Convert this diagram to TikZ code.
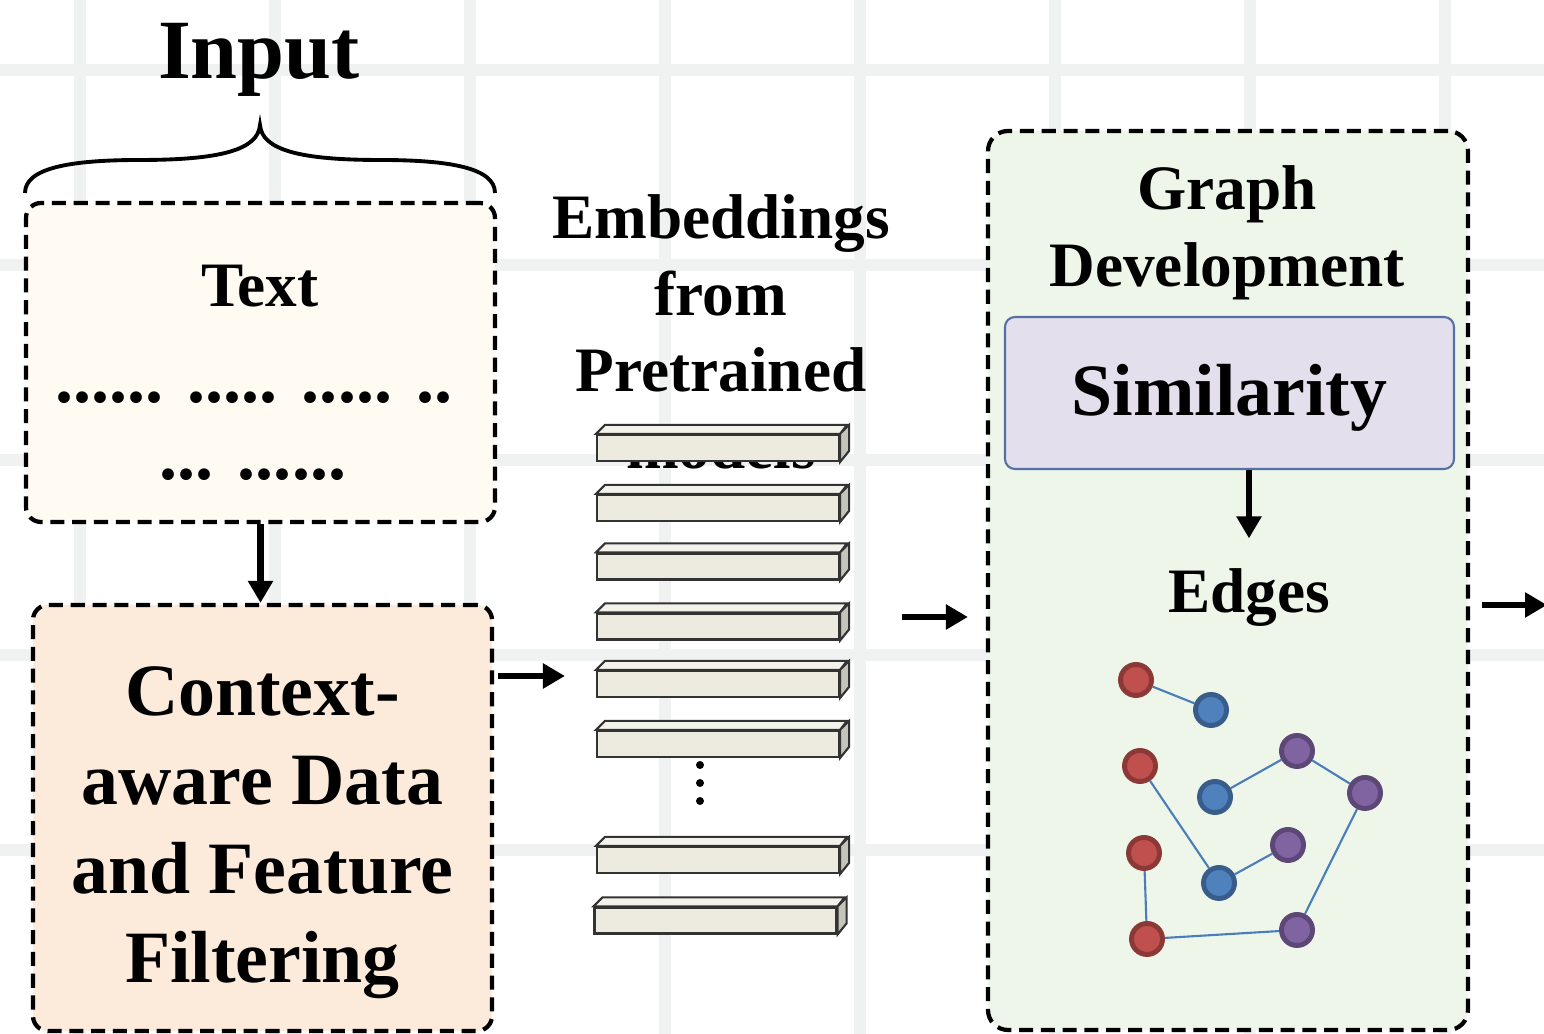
\documentclass[tikz,border=0pt]{standalone}
\usepackage{fontspec}
\setmainfont{Liberation Serif}
\usetikzlibrary{arrows.meta}

\definecolor{gridgray}{RGB}{240,242,241}
\definecolor{textfill}{RGB}{255,251,242}
\definecolor{filterfill}{RGB}{252,234,219}
\definecolor{graphfill}{RGB}{238,246,234}
\definecolor{simfill}{RGB}{228,223,236}
\definecolor{simline}{RGB}{84,112,165}
\definecolor{barfront}{RGB}{237,235,224}
\definecolor{bartop}{RGB}{243,242,235}
\definecolor{barside}{RGB}{197,196,186}
\definecolor{edgeblue}{RGB}{74,126,187}
\definecolor{redfill}{RGB}{192,80,77}
\definecolor{redline}{RGB}{140,56,54}
\definecolor{bluefill}{RGB}{79,129,189}
\definecolor{blueline}{RGB}{56,93,138}
\definecolor{purplefill}{RGB}{128,100,162}
\definecolor{purpleline}{RGB}{92,71,118}

\begin{document}
\begin{tikzpicture}[
    dashbox/.style={draw=black, line width=1.2pt, dash pattern=on 4pt off 2.2pt, rounded corners=0.15cm, inner sep=0pt},
    lbl/.style={inner sep=0pt, align=center},
    arr/.style={-{Triangle[length=0.22cm, width=0.24cm]}, line width=1.9pt},
    bar/.style={draw=black!80, line width=0.6pt, fill=barfront, minimum width=2.42cm, minimum height=0.26cm, inner sep=0pt},
    gnode/.style={circle, line width=1.4pt, minimum size=0.31cm, inner sep=0pt},
    rnode/.style={gnode, fill=redfill, draw=redline},
    bnode/.style={gnode, fill=bluefill, draw=blueline},
    pnode/.style={gnode, fill=purplefill, draw=purpleline},
    gedge/.style={draw=edgeblue, line width=0.6pt}
  ]
    % Definitions
    \def\bardepth{0.09}
    \def\barwidth{2.42}
    \def\barheight{0.26}
    \clip (0,0) rectangle (15.44,10.34);
    % Background grid
    \foreach \x in {0.80,2.75,4.70,6.65,8.60,10.55,12.50,14.45}
        \draw[gridgray, line width=0.12cm] (\x,0) -- (\x,10.34);
    \foreach \y in {9.64,7.69,5.74,3.79,1.84}
        \draw[gridgray, line width=0.12cm] (0,\y) -- (15.44,\y);

    % Input
    \node[lbl, anchor=base, font=\bfseries\fontsize{24}{28}\selectfont] (input) at (2.59,9.55) {Input};
    \draw[line width=1.1pt] (0.25,8.41) .. controls (0.25,8.66) and (0.70,8.74) .. (1.40,8.74)
        .. controls (2.20,8.74) and (2.58,8.84) .. (2.60,9.09)
        .. controls (2.62,8.84) and (3.00,8.74) .. (3.80,8.74)
        .. controls (4.50,8.74) and (4.95,8.66) .. (4.95,8.41);
    \node[dashbox, fill=textfill, minimum width=4.69cm, minimum height=3.19cm] (textbox) at (2.605,6.715) {};
    \node[lbl, anchor=base, font=\bfseries\fontsize{18}{22}\selectfont] (textlbl) at (2.60,7.27) {Text};
    \node[lbl, anchor=base, font=\bfseries\fontsize{20.5}{24}\selectfont] (dotsa) at (2.54,6.31) {...... ..... ..... ..};
    \node[lbl, anchor=base, font=\bfseries\fontsize{20.5}{24}\selectfont] (dotsb) at (2.53,5.54) {... ......};

    % Filtering
    \node[dashbox, fill=filterfill, minimum width=4.59cm, minimum height=4.26cm] (filter) at (2.625,2.16) {};
    \node[lbl, anchor=north, font=\bfseries\fontsize{21}{25.3}\selectfont] (filterlbl) at (2.625,3.68)
        {Context-\\aware Data\\and Feature\\Filtering};
    \draw[arr] (textbox.south) -- (textbox.south |- filter.north);

    % Embeddings
    \node[lbl, anchor=north, font=\bfseries\fontsize{18}{21.8}\selectfont] (emblbl) at (7.21,8.40)
        {Embeddings\\from\\Pretrained\\models};
    \foreach \i/\y in {1/5.86,2/5.26,3/4.675,4/4.075,5/3.50,6/2.90,7/1.74}{
        \node[bar] (bar\i) at (7.18,\y) {};
        \filldraw[fill=bartop, draw=black!80, line width=0.6pt] (bar\i.north west) -- ++(\bardepth,\bardepth)
            -- ++(\barwidth,0) -- (bar\i.north east) -- cycle;
        \filldraw[fill=barside, draw=black!80, line width=0.6pt] (bar\i.north east) -- ++(\bardepth,\bardepth)
            -- ++(0,-\barheight) -- (bar\i.south east) -- cycle;
    }
    \node[bar] (bar8) at (7.155,1.135) {};
    \filldraw[fill=bartop, draw=black!80, line width=0.6pt] (bar8.north west) -- ++(\bardepth,\bardepth)
        -- ++(\barwidth,0) -- (bar8.north east) -- cycle;
    \filldraw[fill=barside, draw=black!80, line width=0.6pt] (bar8.north east) -- ++(\bardepth,\bardepth)
        -- ++(0,-\barheight) -- (bar8.south east) -- cycle;
    \foreach \y in {2.69,2.51,2.33}
        \fill (7.00,\y) circle (0.04);
    \coordinate (filtout) at (4.98,3.58);
    \draw[arr, shorten >=0.31cm] (filtout) -- (filtout -| bar5.west);

    % Graph development
    \node[dashbox, fill=graphfill, rounded corners=0.2cm, minimum width=4.80cm, minimum height=8.99cm] (graph) at (12.28,4.535) {};
    \node[lbl, anchor=north, font=\bfseries\fontsize{18}{21.9}\selectfont] (graphlbl) at (12.27,8.69)
        {Graph\\Development};
    \node[draw=simline, line width=0.6pt, fill=simfill, rounded corners=0.1cm, minimum width=4.49cm, minimum height=1.52cm,
        inner sep=0pt, font=\bfseries\fontsize{21}{25}\selectfont] (sim) at (12.295,6.41) {\raisebox{-0.23cm}[0pt][0pt]{Similarity}};
    \node[lbl, anchor=base, font=\bfseries\fontsize{18}{22}\selectfont] (edges) at (12.49,4.21) {Edges};
    \draw[arr, shorten >=0.30cm] (sim.south -| edges.north) -- (edges.north);
    \coordinate (embout) at (9.02,4.17);
    \draw[arr, shorten >=0.18cm] (embout) -- (embout -| graph.west);
    \coordinate (gout) at (15.47,4.29);
    \draw[arr, shorten <=0.12cm] (graph.east |- gout) -- (gout);

    % Graph nodes
    \node[rnode] (r1) at (11.36,3.54) {};
    \node[bnode] (b1) at (12.11,3.24) {};
    \node[rnode] (r2) at (11.40,2.68) {};
    \node[bnode] (b2) at (12.15,2.37) {};
    \node[pnode] (p1) at (12.97,2.83) {};
    \node[pnode] (p2) at (13.65,2.41) {};
    \node[rnode] (r3) at (11.44,1.81) {};
    \node[bnode] (b3) at (12.19,1.51) {};
    \node[pnode] (p3) at (12.88,1.89) {};
    \node[rnode] (r4) at (11.47,0.95) {};
    \node[pnode] (p4) at (12.97,1.04) {};
    \foreach \a/\b in {r1/b1,b2/p1,p1/p2,p2/p4,p4/r4,r4/r3,r2/b3,b3/p3}
        \draw[gedge] (\a) -- (\b);
\end{tikzpicture}
\end{document}
